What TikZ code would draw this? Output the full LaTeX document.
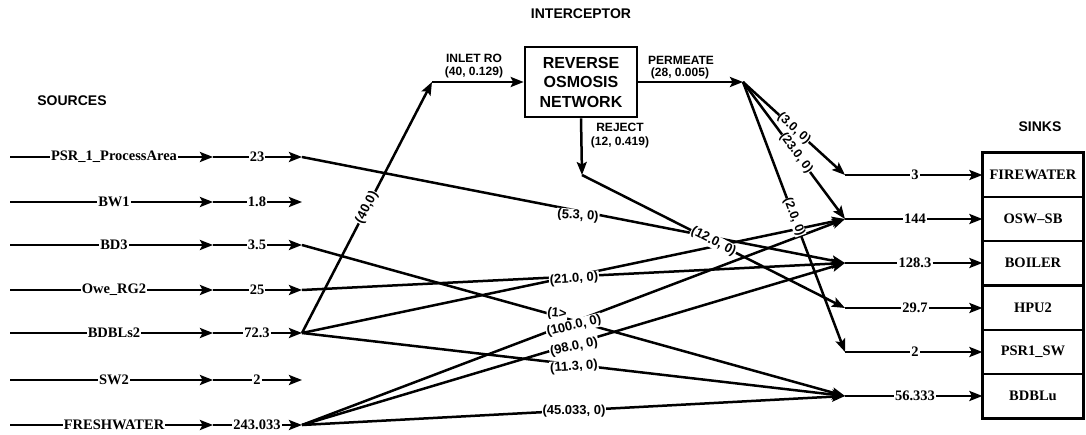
\documentclass[tikz,border=0pt]{standalone}
\usepackage{fontspec}
\setmainfont{Liberation Serif}
\newfontfamily\lsans{Liberation Sans}
\usetikzlibrary{arrows.meta,fit}
\begin{document}
\begin{tikzpicture}[x=1bp,y=-1bp,
  wire/.style={line width=2.5bp},
  tip/.style={-{Stealth[length=13bp,width=10bp,inset=2.5bp]}},
  srcname/.style={font=\bfseries\fontsize{14.5bp}{16bp}\selectfont, fill=white, inner xsep=1bp, inner ysep=0pt},
  flowlab/.style={font=\lsans\bfseries\fontsize{13bp}{15bp}\selectfont, fill=white, inner sep=0.8bp},
  steeplab/.style={font=\lsans\bfseries\fontsize{12.5bp}{14bp}\selectfont, fill=white, inner sep=0pt},
  smalllab/.style={font=\lsans\bfseries\fontsize{12bp}{14bp}\selectfont, inner sep=0pt},
  header/.style={font=\lsans\bfseries\fontsize{14bp}{16bp}\selectfont, inner sep=0pt},
  sinkcell/.style={draw, line width=1.2bp, minimum width=100bp, minimum height=44.17bp, inner sep=0pt,
    font=\bfseries\fontsize{14.5bp}{16bp}\selectfont},
  unit/.style={draw, line width=2.6bp, minimum width=112bp, minimum height=70bp, align=center,
    font=\lsans\bfseries\fontsize{16bp}{19.5bp}\selectfont}
]
\useasboundingbox[fill=white] (0,0) rectangle (1086,435);

% headings
\node[header] (hsrc) at (72,101) {SOURCES};
\node[header] (hint) at (581,14) {INTERCEPTOR};
\node[header] (hsnk) at (1040,127) {SINKS};

% sinks: cells, inlet junctions and flow totals
\foreach \id/\y/\name/\num in {fire/175/FIREWATER/3, osw/219/OSW--SB/144, boil/263/BOILER/128.3,
    hpu/308/HPU2/29.7, psrsw/352/PSR1\_SW/2, bdblu/396/BDBLu/56.333}{
  \coordinate (k-\id) at (845,\y);
  \node[sinkcell] (c-\id) at (1033,\y) {\name};
  \node[srcname] (n-\id) at (915,\y) {\num};
  \draw[wire] (k-\id) -- (n-\id);
  \draw[wire,tip] (n-\id) -- (c-\id);
}
\node[draw, line width=3bp, fit=(c-fire)(c-bdblu), inner sep=0pt] (sinkbox) {};

% sources: name, total flow and outlet junction
\foreach \id/\y/\name/\num in {psr/157/PSR\_1\_ProcessArea/23, bw/202/BW1/1.8, bd/245/BD3/3.5,
    owe/290/Owe\_RG2/25, bdbls/333/BDBLs2/72.3, sw/380/SW2/2, fw/425/FRESHWATER/243.033}{
  \coordinate (\id-in) at (10,\y);
  \node[srcname] (\id-name) at (114,\y) {\name};
  \coordinate (\id-a) at (213,\y);
  \node[srcname] (\id-num) at (257,\y) {\num};
  \coordinate (\id-j) at (302,\y);
  \draw[wire] (\id-in) -- (\id-name);
  \draw[wire,tip] (\id-name) -- (\id-a);
  \draw[wire] (\id-a) -- (\id-num);
  \draw[wire,tip] (\id-num) -- (\id-j);
}

% reverse osmosis interceptor
\node[unit] (ro) at (581,82) {REVERSE\\OSMOSIS\\NETWORK};
\coordinate (inturn) at (432,82);
\coordinate (perm) at (743,82);
\coordinate (rej) at (582,175);
\draw[wire,tip] (bdbls-j) -- node[flowlab, sloped] (l40) {(40,0)} (inturn);
\draw[wire,tip] (inturn) -- (ro.west);
\draw[wire,tip] (ro.east) -- (perm);
\draw[wire,tip] (ro.south) -- (rej);
\node[smalllab] (tin1) at (474,58) {INLET RO};
\node[smalllab] (tin2) at (474,72) {(40, 0.129)};
\node[smalllab] (tpe1) at (681,60) {PERMEATE};
\node[smalllab] (tpe2) at (680,73) {(28, 0.005)};
\node[smalllab] (tre1) at (620,127) {REJECT};
\node[smalllab] (tre2) at (620,142) {(12, 0.419)};

% direct source-to-sink allocations
\draw[wire,tip] (psr-j) -- (k-boil);
\draw[wire,tip] (bd-j) -- (k-bdblu);
\draw[wire,tip] (owe-j) -- (k-boil);
\draw[wire,tip] (bdbls-j) -- (k-osw);
\draw[wire,tip] (bdbls-j) -- (k-bdblu);
\draw[wire,tip] (fw-j) -- (k-osw);
\draw[wire,tip] (fw-j) -- (k-boil);
\draw[wire,tip] (fw-j) -- (k-bdblu);

% permeate and reject allocations
\draw[wire,tip] (perm) -- node[steeplab, sloped, pos=0.5] (l3) {(3.0, 0)} (k-fire);
\draw[wire,tip] (perm) -- node[steeplab, sloped, pos=0.52] (l23) {(23.0, 0)} (k-osw);
\draw[wire,tip] (perm) -- node[steeplab, sloped, pos=0.5] (l2) {(2.0, 0)} (k-psrsw);
\draw[wire,tip] (rej) -- node[flowlab, sloped, pos=0.5] (l12) {(12.0, 0)} (k-hpu);

% flow labels of the direct allocations
\node[flowlab, rotate=-4] (l53) at (578,216) {(5.3, 0)};
\node[flowlab, rotate=4] (l21) at (574,279) {(21.0, 0)};
\node[flowlab, rotate=-5] (l1) at (557,314) {(1>};
\node[flowlab, rotate=14] (l100) at (574,326) {(100.0, 0)};
\node[flowlab, rotate=12] (l98) at (574,347) {(98.0, 0)};
\node[flowlab, rotate=4] (l113) at (574,367) {(11.3, 0)};
\node[flowlab] (l45) at (574,411) {(45.033, 0)};
\end{tikzpicture}
\end{document}
